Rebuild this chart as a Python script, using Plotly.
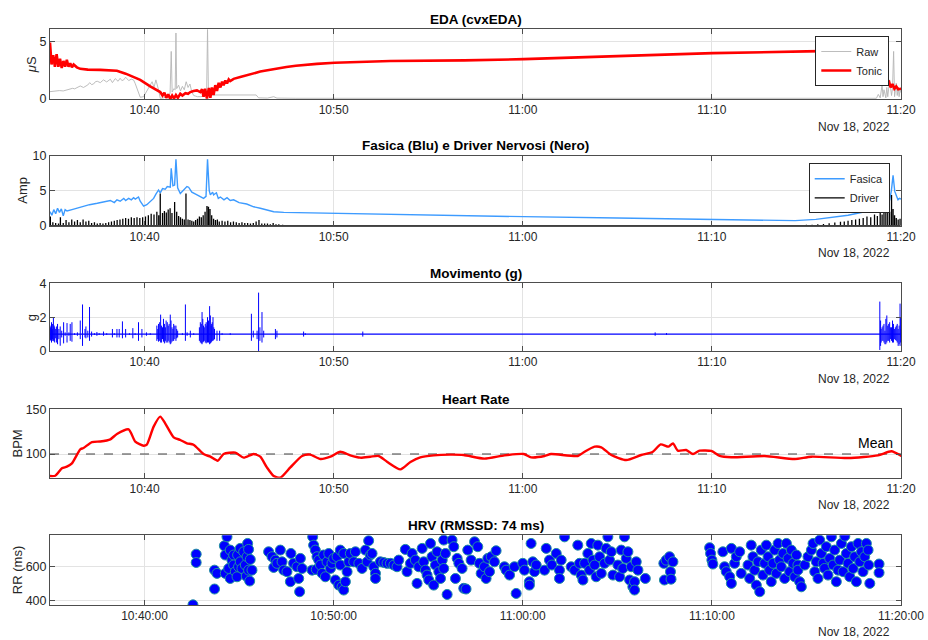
import pandas as pd
import plotly.graph_objects as go

# ---------------- DATA (minutes after 10:35, 18 Nov 2022) ----------------
START = "2022-11-18 10:35:00"
SPAN_MIN = 45
tick_minutes = [5, 15, 25, 35, 45]
tick_labels = ["10:40", "10:50", "11:00", "11:10", "11:20"]
hrv_tick_labels = ["10:40:00", "10:50:00", "11:00:00", "11:10:00", "11:20:00"]
date_label = "Nov 18, 2022"

# EDA raw (grey)
raw_t = [0.0, 0.2, 0.5, 0.7, 0.9, 1.05, 1.2, 1.3, 1.42, 1.6, 1.77, 1.9, 2.0, 2.1, 2.2, 2.3, 2.4, 2.5,
         2.66, 2.75, 2.83, 3.0, 3.1, 3.19, 3.3, 3.45, 3.6, 3.71, 3.8, 3.9, 4.0, 4.16, 4.3, 4.42, 4.5,
         4.6, 4.7, 4.77, 4.95, 5.1, 5.2, 5.25, 5.35, 5.4, 5.5, 5.6, 5.74, 5.83, 6.0, 6.2, 6.35, 6.41,
         6.46, 6.55, 6.62, 6.66, 6.7, 6.8, 6.9, 7.0, 7.1, 7.2, 7.3, 7.4, 7.5, 7.6, 7.7, 7.8, 7.95,
         8.1, 8.28, 8.33, 8.38, 8.5, 9.0, 10.0, 10.9, 11.03, 11.5, 11.83, 12.0, 13.0, 20.0, 30.0,
         40.0, 43.7, 43.8, 43.9, 44.0, 44.05, 44.1, 44.2, 44.25, 44.3, 44.4, 44.5, 44.55, 44.61,
         44.66, 44.75, 44.8, 44.85, 44.9, 44.95, 45.02]
raw_v = [0.64, 0.68, 0.73, 0.70, 0.79, 0.85, 0.93, 0.88, 1.0, 1.13, 1.0, 1.15, 1.22, 1.42, 1.25, 1.3, 1.5, 1.54,
         1.42, 1.55, 1.66, 1.48, 1.6, 1.72, 1.42, 1.77, 1.54, 1.8, 1.6, 1.66, 1.89, 1.6, 1.72, 1.65, 1.37,
         0.93, 0.35, 0.15, 0.2, 0.64, 1.0, 1.13, 1.4, 1.5, 1.0, 1.66, 0.79, 0.06, 0.1, 0.2, 0.5, 4.13,
         0.6, 0.9, 0.8, 5.73, 0.9, 1.2, 0.7, 1.1, 0.8, 1.5, 1.0, 1.3, 0.6, 0.3, 0.25, 0.2, 0.2,
         0.22, 0.3, 6.05, 0.4, 0.35, 0.35, 0.35, 0.35, 0.1, 0.08, 0.2, 0.08, 0.06, 0.06, 0.06,
         0.06, 0.06, 0.4, 0.1, 1.2, 0.2, 0.8, 0.1, 1.0, 0.2, 1.66, 0.3, 0.9, 4.13,
         0.2, 1.37, 0.3, 1.0, 0.2, 0.8, 0.5]

# EDA tonic (red)
tonic_t = [0.0, 0.08, 0.17, 0.26, 0.35, 0.44, 0.53, 0.62, 0.71, 0.80, 0.89, 0.98, 1.07, 1.16, 1.25, 1.35,
           1.42, 1.6, 2.0, 2.66, 3.2, 3.54, 4.0, 4.77, 5.3, 5.83, 5.95, 6.05, 6.15, 6.25, 6.36, 6.46,
           6.56, 6.66, 6.76, 6.89, 7.0, 7.16, 7.3, 7.42, 7.59, 7.77, 7.95, 8.04, 8.12, 8.2, 8.3, 8.4,
           8.48, 8.56, 8.65, 8.74, 8.83, 8.92, 9.01, 9.1, 9.18, 9.27, 9.36, 9.45, 9.53, 9.71, 10.06,
           10.59, 11.12, 11.5, 12.0, 12.5, 13.0, 13.5, 14.11, 15.05, 16.5, 18.0, 21.9, 25.05, 30.0,
           35.05, 40.0, 42.5, 43.3, 43.5, 43.75, 43.85, 43.95, 44.05, 44.15, 44.25, 44.35, 44.45,
           44.55, 44.65, 44.75, 44.85, 45.02]
tonic_v = [4.9, 3.0, 3.8, 2.8, 3.9, 2.8, 3.5, 2.7, 3.3, 2.8, 3.4, 2.8, 3.1, 2.75, 3.0, 2.8,
           2.75, 2.62, 2.55, 2.53, 2.52, 2.45, 2.2, 1.66, 1.1, 0.6, 0.3, 0.55, 0.1, 0.4, 0.0, 0.3,
           0.05, 0.35, 0.1, 0.45, 0.3, 0.5, 0.45, 0.6, 0.7, 0.75, 0.6, 0.85, 0.2, 0.9, 0.05, 0.95,
           0.1, 1.0, 0.35, 1.2, 0.7, 1.4, 1.0, 1.5, 1.2, 1.6, 1.35, 1.7, 1.55, 1.75, 1.9,
           2.15, 2.38, 2.5, 2.65, 2.78, 2.88, 2.97, 3.05, 3.15, 3.25, 3.3, 3.35, 3.46, 3.72,
           3.98, 4.13, 4.2, 4.15, 3.5, 2.5, 2.1, 2.3, 1.8, 2.0, 1.4, 1.6, 1.0,
           1.3, 0.9, 1.1, 0.85, 0.9]

# Phasic (blue)
fas_t = [0.0, 0.1, 0.2, 0.3, 0.4, 0.5, 0.6, 0.7, 0.8, 0.9, 1.16, 1.42, 1.77, 2.09, 2.5, 2.83, 3.19, 3.4,
         3.54, 3.71, 3.9, 4.0, 4.16, 4.3, 4.42, 4.51, 4.68, 4.77, 4.95, 5.12, 5.3, 5.48, 5.6, 5.74, 5.83,
         5.95, 6.09, 6.2, 6.36, 6.41, 6.5, 6.59, 6.66, 6.75, 6.89, 7.0, 7.1, 7.24, 7.33, 7.5, 7.7, 7.95,
         8.12, 8.25, 8.33, 8.42, 8.48, 8.6, 8.65, 8.8, 8.9, 9.01, 9.2, 9.36, 9.53, 9.71, 10.0, 10.4,
         10.77, 11.12, 11.47, 11.83, 12.36, 15.05, 18.0, 21.9, 25.05, 30.0, 35.05, 38.0, 39.4, 40.5,
         41.32, 42.2, 43.08, 43.5, 43.78, 44.0, 44.2, 44.31, 44.4, 44.49, 44.58, 44.67, 44.75, 44.84,
         44.92, 45.02]
fas_v = [2.0, 1.5, 2.3, 1.7, 2.5, 1.9, 2.4, 1.4, 2.3, 2.1, 2.3, 2.5, 2.7, 3.0, 3.2, 3.4, 3.6, 3.3,
         3.7, 3.5, 3.9, 3.6, 3.9, 3.7, 4.0, 3.8, 4.1, 3.5, 2.8, 3.0, 3.5, 3.9, 4.5, 5.1, 4.7,
         5.3, 5.2, 5.6, 5.5, 8.2, 5.7, 5.8, 9.5, 5.4, 4.6, 4.9, 5.1, 5.6, 5.5, 4.8, 4.5, 4.1,
         3.9, 4.2, 9.5, 5.0, 4.4, 4.8, 4.4, 4.7, 3.9, 4.1, 3.7, 4.0, 3.6, 3.7, 3.3, 3.1,
         2.7, 2.5, 2.2, 2.0, 1.9, 1.76, 1.62, 1.48, 1.29, 1.1, 0.95, 0.8, 0.72, 0.9,
         1.19, 1.5, 2.0, 2.3, 2.5, 2.9, 3.3, 4.4, 3.6, 5.0, 7.2, 4.9, 4.3, 3.7,
         3.9, 3.8]

# Nerve driver (black impulses)
drv_t = [0.02, 0.15, 0.3, 0.45, 0.55, 0.7, 0.85, 1.0, 1.15, 1.3, 1.45, 1.6, 1.75, 1.9, 2.05, 2.2, 2.35,
         2.5, 2.65, 2.8, 2.95, 3.1, 3.25, 3.4, 3.55, 3.7, 3.85, 4.0, 4.15, 4.3, 4.45, 4.6, 4.75, 4.9,
         5.05, 5.2, 5.35, 5.5, 5.65, 5.75, 5.83, 5.95, 6.05, 6.15, 6.25, 6.35, 6.45, 6.59, 6.7, 6.8,
         6.9, 7.0, 7.1, 7.19, 7.3, 7.4, 7.5, 7.6, 7.7, 7.8, 7.9, 8.0, 8.1, 8.2, 8.3, 8.38, 8.46, 8.55,
         8.65, 8.75, 8.85, 8.95, 9.1, 9.25, 9.4, 9.55, 9.7, 9.85, 10.0, 10.15, 10.3, 10.45, 10.6,
         10.75, 10.9, 11.05, 11.2, 11.35, 11.5, 11.65, 11.8, 11.95, 12.1, 12.3, 12.5, 12.7, 13.0, 13.3,
         38.8, 39.1, 39.4, 39.7, 40.0, 40.3, 40.6, 40.9, 41.2, 41.5, 41.8, 42.0, 42.2, 42.4, 42.6,
         42.8, 43.0, 43.2, 43.4, 43.6, 43.75, 43.9, 44.0, 44.1, 44.2, 44.3, 44.4, 44.5, 44.58, 44.66,
         44.75, 44.85, 44.95]
drv_v = [1.3, 0.5, 0.4, 0.3, 1.2, 0.4, 0.8, 0.5, 0.9, 0.6, 0.8, 0.5, 0.9, 0.6, 0.7, 0.4, 0.5,
         0.3, 0.4, 0.3, 0.4, 0.5, 0.6, 0.7, 0.8, 0.9, 1.0, 1.1, 1.0, 1.2, 1.1, 1.2, 1.1, 1.2,
         1.3, 1.5, 1.7, 1.6, 2.0, 1.5, 4.6, 1.8, 2.1, 1.9, 2.3, 2.5, 1.8, 3.4, 2.0, 1.4,
         1.2, 1.0, 0.9, 4.6, 0.9, 0.8, 0.7, 0.6, 0.8, 1.0, 1.3, 1.2, 1.5, 2.0, 2.8, 2.7, 2.4, 1.5,
         1.0, 0.8, 0.9, 0.6, 0.7, 0.6, 0.7, 0.5, 0.6, 0.5, 0.4, 0.5, 0.4, 0.4, 0.3,
         0.4, 0.6, 0.8, 0.3, 0.3, 0.3, 0.2, 0.4, 0.2, 0.2, 0.15, 0.1, 0.1, 0.08, 0.06,
         0.05, 0.06, 0.08, 0.1, 0.12, 0.15, 0.2, 0.25, 0.35, 0.45, 0.55, 0.6, 0.7, 0.8, 0.9,
         1.0, 1.1, 1.3, 1.2, 1.6, 1.4, 2.0, 1.6, 2.2, 1.8, 2.5, 2.0, 4.4, 2.4, 1.5,
         1.1, 0.9, 1.0]

# Movement (g): baseline level and per-instant upper / lower excursions
mov_base = 1.0
mov_t = [0.0, 0.02, 0.05, 0.08, 0.1, 0.12, 0.14, 0.18, 0.22, 0.25, 0.3, 0.35, 0.4, 0.47, 0.54, 0.62,
         0.72, 0.8, 0.9, 1.0, 1.07, 1.16, 1.3, 1.45, 1.6, 1.72, 1.85, 1.9, 2.0, 2.09, 2.2, 2.35, 2.48,
         2.6, 2.83, 3.0, 3.3, 3.4, 3.54, 3.66, 3.83, 4.0, 4.2, 4.38, 4.5, 4.68, 4.86, 5.1, 5.3, 5.65,
         5.7, 5.74, 5.8, 5.85, 5.9, 5.95, 6.0, 6.05, 6.1, 6.14, 6.2, 6.25, 6.3, 6.36, 6.4, 6.45, 6.5,
         6.54, 6.6, 6.66, 6.7, 6.75, 7.0, 7.16, 7.25, 7.42, 7.6, 7.9, 7.95, 8.0, 8.04, 8.08, 8.12,
         8.16, 8.21, 8.26, 8.3, 8.33, 8.38, 8.44, 8.48, 8.52, 8.55, 8.58, 8.62, 8.66, 8.7, 8.83,
         8.97, 9.1, 9.53, 10.65, 10.75, 10.95, 11.03, 11.1, 11.21, 11.3, 11.92, 12.0, 13.41, 13.5,
         16.54, 32.0, 32.6, 43.88, 43.92, 43.95, 44.0, 44.05, 44.1, 44.15, 44.2, 44.25, 44.3,
         44.35, 44.4, 44.45, 44.5, 44.55, 44.6, 44.65, 44.7, 44.75, 44.8, 44.85, 44.9, 44.95,
         44.98, 45.0]
mov_hi = [1.3, 1.4, 1.5, 1.7, 1.2, 1.3, 1.6, 1.99, 1.5, 1.4, 1.3, 1.45, 1.6, 1.3, 1.45, 1.2,
          1.7, 1.1, 1.65, 1.1, 1.6, 1.7, 1.05, 1.1, 1.8, 2.75, 1.3, 1.45, 1.2, 2.6, 1.15, 1.05, 1.12,
          1.05, 1.15, 1.05, 1.3, 1.05, 1.3, 1.3, 1.75, 1.3, 1.05, 1.35, 1.05, 1.7, 1.3, 1.1, 1.05, 1.5,
          1.3, 1.6, 1.7, 2.15, 1.5, 1.4, 1.9, 1.6, 1.4, 1.8, 1.7, 1.5, 1.6, 2.15, 1.8, 1.4, 1.3,
          1.6, 1.5, 1.5, 1.3, 1.2, 1.05, 2.75, 1.1, 1.2, 1.05, 1.4, 1.7, 1.6, 2.3, 1.9, 1.5,
          1.4, 1.6, 1.7, 1.5, 2.0, 1.8, 2.65, 2.1, 1.5, 1.6, 1.7, 2.0, 1.4, 1.3, 1.2,
          1.2, 1.05, 1.05, 2.2, 1.2, 1.2, 3.45, 1.4, 2.3, 1.2, 1.3, 1.2, 1.15, 1.05,
          1.15, 1.1, 1.06, 2.92, 1.8, 1.3, 1.4, 1.5, 1.6, 1.2, 1.9, 2.1, 1.5,
          1.6, 1.7, 1.4, 1.4, 1.8, 1.6, 1.3, 1.4, 1.5, 1.6, 1.3, 1.5, 2.8,
          2.0, 1.3]
mov_lo = [0.7, 0.65, 0.6, 0.5, 0.8, 0.6, 0.7, 0.6, 0.55, 0.5, 0.75, 0.5, 0.4, 0.7, 0.31, 0.8,
          0.45, 0.9, 0.5, 0.9, 0.6, 0.55, 0.95, 0.9, 0.7, 0.3, 0.8, 0.75, 0.8, 0.6, 0.85, 0.95, 0.9,
          0.95, 0.9, 0.95, 0.8, 0.95, 0.8, 0.8, 0.75, 0.8, 0.95, 0.75, 0.95, 0.6, 0.8, 0.9, 0.95, 0.6,
          0.7, 0.55, 0.6, 0.5, 0.5, 0.7, 0.55, 0.45, 0.6, 0.5, 0.5, 0.6, 0.5, 0.4, 0.45, 0.55, 0.6,
          0.6, 0.7, 0.6, 0.75, 0.8, 0.95, 0.6, 0.9, 0.8, 0.95, 0.6, 0.5, 0.45, 0.4, 0.5, 0.55,
          0.6, 0.5, 0.45, 0.55, 0.5, 0.5, 0.4, 0.45, 0.5, 0.55, 0.6, 0.6, 0.65, 0.7, 0.6,
          0.6, 0.95, 0.95, 0.6, 0.8, 0.7, 0.0, 0.6, 0.5, 0.8, 0.7, 0.8, 0.85, 0.95,
          0.85, 0.9, 0.95, 0.06, 0.3, 0.5, 0.6, 0.6, 0.5, 0.4, 0.4, 0.5, 0.6,
          0.6, 0.5, 0.7, 0.6, 0.5, 0.5, 0.7, 0.65, 0.6, 0.5, 0.3, 0.4, 0.3,
          0.5, 0.8]

# Heart rate (BPM)
hr_t = [0.0, 0.28, 0.63, 0.89, 1.16, 1.6, 1.77, 2.22, 2.66, 3.19, 3.54, 4.16, 4.51, 4.95, 5.12, 5.48, 5.83,
        6.09, 6.54, 6.89, 7.24, 7.59, 8.12, 8.48, 8.87, 9.18, 9.8, 10.24, 10.77, 11.12, 11.47, 11.83,
        12.18, 12.71, 13.33, 13.76, 14.3, 14.83, 15.35, 15.88, 16.41, 16.94, 17.38, 17.82, 18.53, 19.06,
        19.58, 20.29, 21.17, 21.87, 22.97, 24.03, 25.05, 25.44, 26.15, 26.5, 27.91, 28.27, 28.8, 29.15,
        29.68, 30.47, 31.26, 31.88, 32.29, 32.71, 32.94, 33.2, 33.64, 34.0, 34.35, 34.97, 35.41, 36.03,
        37.79, 39.38, 40.26, 42.2, 43.78, 44.49, 45.02]
hr_v = [75.4, 75.7, 84.0, 85.8, 89.6, 105.2, 106.7, 113.4, 114.0, 116.4, 122.4, 127.6, 113.8, 109.3, 110.5,
        130.6, 141.8, 134.3, 118.7, 115.7, 112.0, 110.4, 100.0, 97.0, 92.5, 100.0, 101.5, 95.9, 100.0, 97.0,
        85.0, 75.4, 73.5, 85.0, 97.8, 99.3, 94.4, 97.0, 102.6, 98.5, 95.9, 97.0, 97.8, 91.4, 82.8, 91.0,
        96.3, 98.5, 99.3, 98.9, 94.8, 98.5, 100.0, 96.3, 97.8, 100.0, 97.8, 102.6, 108.2, 107.5,
        98.9, 93.3, 98.9, 102.6, 110.8, 108.2, 111.9, 103.7, 104.5, 100.0, 103.7, 103.4, 97.8, 96.3,
        97.8, 94.4, 97.0, 95.5, 98.5, 103.0, 97.8]
hr_mean = 100.0

# HRV: RR intervals (ms)
hrv_t = [7.56, 7.73, 7.73, 8.70, 8.70, 8.83, 9.22, 9.27, 9.27, 9.36, 9.45, 9.53, 9.53, 9.62, 9.71, 9.71,
         9.80, 9.89, 9.92, 9.97, 10.06, 10.06, 10.15, 10.24, 10.33, 10.38, 10.42, 10.45, 10.50, 10.50,
         10.56, 10.59, 10.68, 11.56, 11.74, 11.83, 11.92, 12.00, 12.18, 12.27, 12.36, 12.53, 12.71, 12.74,
         12.88, 13.06, 13.15, 13.20, 13.24, 13.33, 13.86, 13.89, 13.94, 14.03, 14.08, 14.12, 14.21, 14.30,
         14.39, 14.47, 14.56, 14.65, 14.74, 14.83, 14.91, 15.00, 15.09, 15.18, 15.27, 15.35, 15.35, 15.44,
         15.53, 15.53, 15.62, 15.71, 15.80, 15.88, 16.06, 16.15, 16.33, 16.50, 16.68, 16.77, 16.85, 16.94,
         17.03, 17.12, 17.21, 17.21, 17.47, 17.65, 17.82, 18.00, 18.18, 18.35, 18.44, 18.79, 18.88, 19.06,
         19.15, 19.32, 19.41, 19.50, 19.68, 19.76, 19.85, 19.94, 20.03, 20.12, 20.20, 20.29, 20.38, 20.47,
         20.56, 20.65, 20.74, 20.82, 20.82, 20.91, 21.00, 21.26, 21.35, 21.44, 21.53, 21.62, 21.79, 21.88,
         22.00, 22.09, 22.27, 22.45, 22.62, 22.71, 22.80, 22.97, 23.06, 23.15, 23.24, 23.33, 23.50, 23.59,
         24.03, 24.12, 24.30, 24.56, 24.65, 25.00, 25.09, 25.35, 25.35, 25.44, 25.53, 25.62, 25.71, 26.15,
         26.24, 26.41, 26.54, 26.77, 26.94, 26.94, 27.03, 27.21, 27.56, 27.74, 27.91, 28.00, 28.09, 28.18,
         28.27, 28.44, 28.53, 28.62, 28.71, 28.80, 28.88, 28.97, 29.06, 29.15, 29.32, 29.41, 29.50, 29.59,
         29.68, 29.77, 30.03, 30.12, 30.21, 30.29, 30.38, 30.47, 30.56, 30.65, 30.74, 30.82, 30.91, 30.91,
         31.00, 31.09, 31.48, 32.46, 32.49, 32.58, 32.76, 32.81, 32.84, 32.94, 34.88, 34.93, 35.00, 35.05,
         35.58, 35.67, 35.76, 35.94, 36.03, 36.03, 36.20, 36.29, 36.47, 36.55, 36.91, 37.00, 37.08, 37.17,
         37.26, 37.35, 37.44, 37.53, 37.61, 37.70, 37.79, 37.88, 37.97, 38.05, 38.14, 38.23, 38.32, 38.41,
         38.50, 38.58, 38.67, 38.76, 38.85, 38.94, 39.03, 39.11, 39.20, 39.29, 39.38, 39.47, 39.55, 39.55,
         39.64, 39.73, 39.91, 40.08, 40.26, 40.35, 40.44, 40.52, 40.61, 40.70, 40.79, 40.88, 40.96, 41.05,
         41.14, 41.23, 41.32, 41.41, 41.49, 41.58, 41.67, 41.76, 41.85, 41.94, 42.03, 42.11, 42.20, 42.29,
         42.38, 42.47, 42.55, 42.64, 42.73, 42.82, 42.91, 42.99, 43.08, 43.17, 43.26, 43.29, 43.35, 43.84,
         43.84]
hrv_rr = [376, 674, 625, 580, 469, 561, 723, 669, 561, 776, 590, 698, 531, 639, 669, 610,
          571, 541, 669, 600, 708, 629, 590, 688, 610, 545, 659, 737, 702, 580,
          516, 643, 580, 688, 659, 596, 639, 620, 698, 629, 580, 571, 512, 678,
          620, 600, 531, 453, 649, 590, 580, 776, 727, 698, 584, 659, 639, 610,
          561, 669, 541, 629, 678, 590, 620, 649, 522, 659, 492, 698, 610, 482,
          678, 463, 512, 571, 629, 678, 629, 688, 620, 590, 698, 629, 753, 669,
          678, 600, 561, 531, 629, 625, 620, 620, 610, 600, 639, 702, 571, 620,
          678, 639, 502, 600, 708, 629, 580, 551, 522, 737, 659, 492, 610, 688,
          571, 531, 639, 757, 590, 678, 437, 757, 718, 531, 649, 620, 590, 473,
          469, 698, 639, 747, 718, 620, 561, 600, 531, 649, 571, 659, 629, 694,
          600, 580, 551, 600, 443, 620, 580, 512, 492, 737, 629, 571, 610, 580,
          708, 639, 610, 678, 580, 531, 639, 776, 600, 580, 727, 620, 551, 522,
          620, 678, 580, 737, 639, 610, 541, 727, 659, 561, 620, 708, 776, 639,
          688, 551, 610, 541, 698, 590, 776, 649, 688, 522, 600, 482, 512, 463,
          629, 580, 531, 620, 522, 639, 659, 571, 527, 629, 712, 678, 639, 616,
          688, 600, 571, 541, 708, 502, 620, 659, 688, 561, 610, 531, 727, 659,
          580, 492, 629, 453, 698, 551, 620, 727, 659, 580, 512, 620, 698, 561,
          737, 639, 600, 678, 531, 737, 649, 571, 698, 620, 541, 669, 610, 580,
          512, 482, 610, 659, 698, 737, 571, 629, 531, 757, 678, 620, 590, 718,
          551, 649, 776, 610, 698, 512, 580, 639, 737, 571, 780, 678, 620, 541,
          718, 590, 659, 512, 737, 629, 688, 571, 659, 737, 698, 610, 502, 616,
          565]

# ---------------- FIGURE ----------------
base = pd.Timestamp(START)


def T(mins):
    return [None if m is None else base + pd.Timedelta(minutes=float(m)) for m in mins]


x_range = [base, base + pd.Timedelta(minutes=SPAN_MIN)]
W, H = 928, 640
PL, PR = 50, 901
panels = [(29.3, 99.0), (155.7, 225.7), (283.3, 351.0), (409.3, 477.7), (535.3, 605.0)]
y_ranges = [[0, 6.05], [0, 10], [0, 4], [73.5, 150], [375, 785]]
y_ticks = [[0, 5], [0, 5, 10], [0, 2, 4], [100, 150], [400, 600]]
titles = ["EDA (cvxEDA)", "Fasica (Blu) e Driver Nervosi (Nero)", "Movimento (g)", "Heart Rate",
          "HRV (RMSSD: 74 ms)"]
ylabels = ["<i>μ</i>S", "Amp", "g", "BPM", "RR (ms)"]
ylabel_x = [31, 23, 31, 17, 17]
date_y = [127, 253, 379, 505, 632]

FONT = "Liberation Sans, Arial, Helvetica, sans-serif"
AXC = "#4d4d4d"
GRID = "#e3e3e3"
TXT = "#262626"

fig = go.Figure()

# Panel 1
fig.add_trace(go.Scatter(x=T(raw_t), y=raw_v, mode="lines", name="Raw",
                         line=dict(color="#b5b5b5", width=0.9), xaxis="x", yaxis="y", legend="legend"))
fig.add_trace(go.Scatter(x=T(tonic_t), y=tonic_v, mode="lines", name="Tonic",
                         line=dict(color="#ff0000", width=2.6), xaxis="x", yaxis="y", legend="legend"))

# Panel 2
drv_x, drv_y = [], []
for t, h in zip(drv_t, drv_v):
    drv_x += [t, t, t]
    drv_y += [0, h, 0]
fig.add_trace(go.Scatter(x=T(fas_t), y=fas_v, mode="lines", name="Fasica",
                         line=dict(color="#3d9bff", width=1.4), xaxis="x2", yaxis="y2", legend="legend2"))
fig.add_trace(go.Scatter(x=T(drv_x), y=drv_y, mode="lines", name="Driver",
                         line=dict(color="#000000", width=1.3), xaxis="x2", yaxis="y2", legend="legend2"))

# Panel 3
fig.add_trace(go.Scatter(x=x_range, y=[mov_base, mov_base], mode="lines", showlegend=False,
                         line=dict(color="#0000ff", width=1.1), xaxis="x3", yaxis="y3"))
mx, my = [], []
for t, hi, lo in zip(mov_t, mov_hi, mov_lo):
    mx += [t, t, None]
    my += [hi, lo, None]
fig.add_trace(go.Scatter(x=T(mx), y=my, mode="lines", showlegend=False, connectgaps=False,
                         line=dict(color="#0000ff", width=1.0), xaxis="x3", yaxis="y3"))

# Panel 4
fig.add_trace(go.Scatter(x=x_range, y=[hr_mean, hr_mean], mode="lines", showlegend=False,
                         line=dict(color="#404040", width=1, dash="dash"), xaxis="x4", yaxis="y4"))
fig.add_trace(go.Scatter(x=T(hr_t), y=hr_v, mode="lines", showlegend=False,
                         line=dict(color="#ff0000", width=2.4, shape="spline", smoothing=0.6),
                         xaxis="x4", yaxis="y4"))

# Panel 5
fig.add_trace(go.Scatter(x=T(hrv_t), y=hrv_rr, mode="markers", showlegend=False,
                         marker=dict(size=10, color="#0000ff", line=dict(color="#1f8fa0", width=1)),
                         xaxis="x5", yaxis="y5", cliponaxis=True))

layout = dict(width=W, height=H, margin=dict(l=0, r=0, t=0, b=0, autoexpand=False),
              paper_bgcolor="white", plot_bgcolor="white",
              font=dict(family=FONT, size=12, color=TXT), showlegend=True)

annotations = []
for i, (top, bot) in enumerate(panels):
    k = "" if i == 0 else str(i + 1)
    layout["xaxis" + k] = dict(
        domain=[PL / W, PR / W], anchor="y" + k, type="date", range=x_range, automargin=False,
        tickvals=T(tick_minutes), ticktext=(hrv_tick_labels if i == 4 else tick_labels),
        ticks="inside", ticklen=5, tickcolor=AXC, showline=True, linecolor=AXC, linewidth=1,
        mirror="ticks", showgrid=True, gridcolor=GRID, gridwidth=1, zeroline=False,
        tickfont=dict(size=12, color=TXT), fixedrange=True)
    layout["yaxis" + k] = dict(
        domain=[1 - bot / H, 1 - top / H], anchor="x" + k, range=y_ranges[i], automargin=False,
        tickvals=y_ticks[i], ticks="inside", ticklen=5, tickcolor=AXC, showline=True,
        linecolor=AXC, linewidth=1, mirror="ticks", showgrid=True, gridcolor=GRID, gridwidth=1,
        zeroline=False, tickfont=dict(size=12.5, color=TXT), fixedrange=True)
    annotations.append(dict(text="<b>%s</b>" % titles[i], x=(PL + PR) / 2 / W, y=1 - (top - 10) / H,
                            xref="paper", yref="paper", xanchor="center", yanchor="middle",
                            showarrow=False, font=dict(size=13.5, color="#000000")))
    annotations.append(dict(text=ylabels[i], x=ylabel_x[i] / W, y=1 - (top + bot) / 2 / H,
                            xref="paper", yref="paper", xanchor="center", yanchor="middle",
                            textangle=-90, showarrow=False, font=dict(size=13, color=TXT)))
    annotations.append(dict(text=date_label, x=892 / W, y=1 - date_y[i] / H, xref="paper", yref="paper",
                            xanchor="right", yanchor="middle", showarrow=False,
                            font=dict(size=12, color=TXT)))

annotations.append(dict(text="Mean", x=895 / W, y=1 - 443 / H, xref="paper", yref="paper",
                        xanchor="right", yanchor="middle", showarrow=False,
                        font=dict(size=14, color="#000000")))

layout["annotations"] = annotations
layout["legend"] = dict(x=889.3 / W, y=1 - 36 / H, xanchor="right", yanchor="top",
                        bgcolor="white", bordercolor="#262626", borderwidth=1,
                        font=dict(size=11, color=TXT), tracegroupgap=0, itemwidth=30)
layout["legend2"] = dict(x=889.7 / W, y=1 - 163.3 / H, xanchor="right", yanchor="top",
                         bgcolor="white", bordercolor="#262626", borderwidth=1,
                         font=dict(size=11, color=TXT), tracegroupgap=0, itemwidth=30)

fig.update_layout(**layout)
fig.write_html("out.html")
